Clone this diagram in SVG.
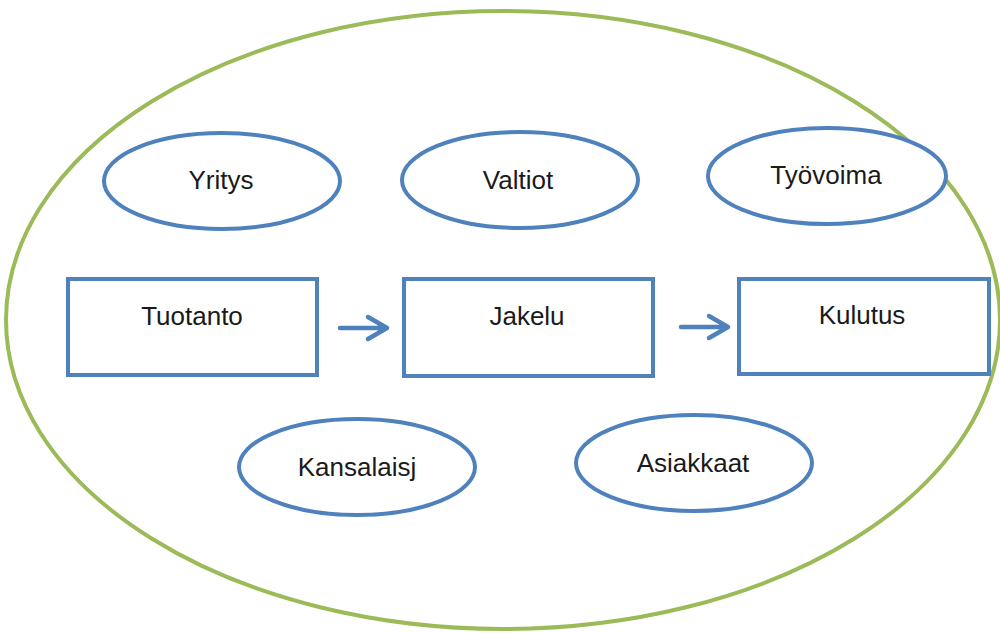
<svg xmlns="http://www.w3.org/2000/svg" width="1000" height="633" viewBox="0 0 1000 633">
  <defs>
    <style>
      .node { fill: #ffffff; stroke: #4f81bd; stroke-width: 4; }
      .label { font-family: "Liberation Sans", Arial, sans-serif; font-size: 26px; fill: #1a1a1a; text-anchor: middle; }
      .link { stroke: #4f81bd; stroke-width: 4.5; fill: none; stroke-linecap: round; stroke-linejoin: round; }
    </style>
  </defs>
  <rect width="1000" height="633" fill="#ffffff"/>

  <!-- outer boundary -->
  <g id="boundary">
    <ellipse cx="503" cy="320" rx="497" ry="309" fill="none" stroke="#9bbb59" stroke-width="4"/>
  </g>

  <!-- actors -->
  <g id="yritys">
    <ellipse class="node" cx="222" cy="181" rx="118" ry="48"/>
    <text class="label" x="221" y="189">Yritys</text>
  </g>
  <g id="valtiot">
    <ellipse class="node" cx="520" cy="180" rx="118" ry="48"/>
    <text class="label" x="518" y="189">Valtiot</text>
  </g>
  <g id="tyovoima">
    <ellipse class="node" cx="827" cy="176" rx="119" ry="48"/>
    <text class="label" x="826" y="184">Työvoima</text>
  </g>

  <!-- process steps -->
  <g id="tuotanto">
    <rect class="node" x="68" y="279" width="249" height="96"/>
    <text class="label" x="192" y="325">Tuotanto</text>
  </g>
  <g id="jakelu">
    <rect class="node" x="404" y="279" width="249" height="97"/>
    <text class="label" x="527" y="325">Jakelu</text>
  </g>
  <g id="kulutus">
    <rect class="node" x="739" y="279" width="250" height="95"/>
    <text class="label" x="862" y="324">Kulutus</text>
  </g>

  <g id="kansalaisj">
    <ellipse class="node" cx="357" cy="467" rx="118" ry="48"/>
    <text class="label" x="357" y="476">Kansalaisj</text>
  </g>
  <g id="asiakkaat">
    <ellipse class="node" cx="694" cy="463" rx="118" ry="48"/>
    <text class="label" x="693" y="472">Asiakkaat</text>
  </g>

  <!-- flow arrows -->
  <g id="connectors">
    <path class="link" d="M340 328 H386 M368 317 L387 328 L368 339"/>
    <path class="link" d="M681 327 H727 M709 316 L728 327 L709 338"/>
  </g>
</svg>
